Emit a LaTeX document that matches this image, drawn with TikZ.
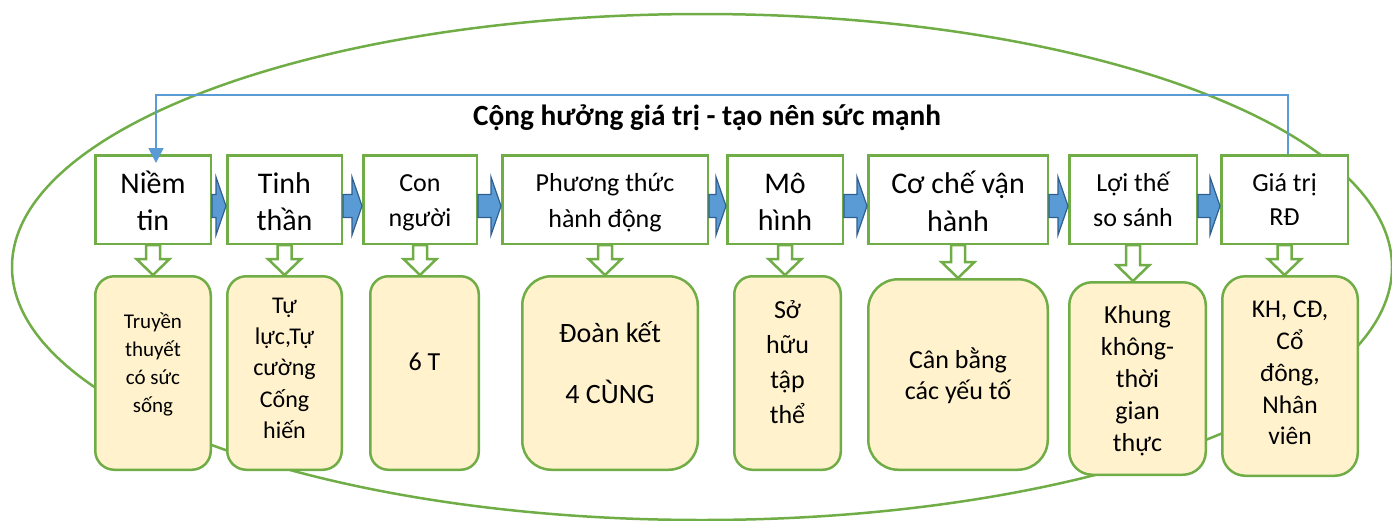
\documentclass[tikz,border=0pt]{standalone}
\usepackage{fontspec}
\setmainfont{Carlito}
\usetikzlibrary{arrows.meta,calc}
\definecolor{leaf}{HTML}{70AD47}
\definecolor{cream}{HTML}{FFF2CC}
\definecolor{sky}{HTML}{5B9BD5}
\definecolor{navy}{HTML}{2F5F8F}
\newcommand{\fs}[2]{\fontsize{#1}{#2}\selectfont}
% centred lines, baseline of the block = baseline of the first line
\newcommand{\ml}[2]{\vtop{\baselineskip=#1pt\lineskiplimit=-100pt\lineskip=0pt\halign{\hfil##\hfil\cr#2\crcr}}}
% blue block arrow between two top boxes
\newcommand{\rarr}[2]{\path[barrow] let \p1=(#1.east), \p2=(#2.west) in
  (\x1,{\y1+5pt}) -- ({\x2-10pt},{\y1+5pt}) -- ({\x2-10pt},{\y1+22.5pt}) -- (\x2,{\y1-6.5pt})
  -- ({\x2-10pt},{\y1-35.5pt}) -- ({\x2-10pt},{\y1-18pt}) -- (\x1,{\y1-18pt}) -- cycle;}
% hollow down arrow from a top box to its detail box
\newcommand{\darr}[2]{\path[warrow] let \p1=(#1.south), \p2=(#2.north) in
  ({\x1-7pt},\y1) -- ({\x1-7pt},{\y2+16pt}) -- ({\x1-16.5pt},{\y2+16pt}) -- (\x1,\y2)
  -- ({\x1+16.5pt},{\y2+16pt}) -- ({\x1+7pt},{\y2+16pt}) -- ({\x1+7pt},\y1) -- cycle;}
\begin{document}
\begin{tikzpicture}[x=1pt,y=-1pt,
  tbox/.style={draw=leaf, line width=2.5pt, fill=white, minimum height=88.5, inner sep=0pt},
  dbox/.style={draw=leaf, line width=2.5pt, fill=cream, inner sep=0pt},
  barrow/.style={fill=sky, draw=navy, line width=1.2pt, line join=miter},
  warrow/.style={fill=white, draw=leaf, line width=2.5pt, line join=miter},
  txt/.style={anchor=base, inner sep=0pt, text=black},
  loop/.style={draw=sky, line width=1.5pt, -{Triangle[width=15pt,length=15pt]}}]
\useasboundingbox (0,0) rectangle (1392,520);

% outer ring
\draw[leaf, line width=2.5pt] (702,267) ellipse [x radius=690pt, y radius=253pt];

% title
\node[txt, font=\bfseries\fs{29.3}{35}] (title) at (707,125) {Cộng hưởng giá trị - tạo nên sức mạnh};

% top row
\node[tbox, minimum width=115.5] (n1) at (153,199.5) {};
\node[tbox, minimum width=114.5] (n2) at (284.5,199.5) {};
\node[tbox, minimum width=113.5] (n3) at (420,199.5) {};
\node[tbox, minimum width=205.5] (n4) at (605,199.5) {};
\node[tbox, minimum width=115.5] (n5) at (785,199.5) {};
\node[tbox, minimum width=179.5] (n6) at (958,199.5) {};
\node[tbox, minimum width=127.5] (n7) at (1133,199.5) {};
\node[tbox, minimum width=126.5] (n8) at (1284.5,199.5) {};

\node[txt, font=\fs{30}{37}] (l1) at (153,193) {\ml{37}{Niềm\cr tin}};
\node[txt, font=\fs{30}{37}] (l2) at (284.5,193) {\ml{37}{Tinh\cr thần}};
\node[txt, font=\fs{26}{35}] (l3) at (420,191) {\ml{35}{Con\cr người}};
\node[txt, font=\fs{26}{36}] (l4) at (605,191) {\ml{36}{Phương thức\cr hành động}};
\node[txt, font=\fs{30}{37}] (l5) at (785,193) {\ml{37}{Mô\cr hình}};
\node[txt, font=\fs{30}{38}] (l6) at (958,193) {\ml{38}{Cơ chế vận\cr hành}};
\node[txt, font=\fs{26}{35}] (l7) at (1133,191.5) {\ml{35}{Lợi thế\cr so sánh}};
\node[txt, font=\fs{26}{34}] (l8) at (1284.5,191) {\ml{34}{Giá trị\cr RĐ}};

% detail row
\node[dbox, rounded corners=19, minimum width=115.5, minimum height=193.5] (d1) at (153,373) {};
\node[dbox, rounded corners=19, minimum width=114.5, minimum height=193.5] (d2) at (284.5,373) {};
\node[dbox, rounded corners=18, minimum width=108.5, minimum height=193.5] (d3) at (424.5,373) {};
\node[dbox, rounded corners=29, minimum width=175.5, minimum height=193.5] (d4) at (610,373) {};
\node[dbox, rounded corners=18, minimum width=106.5, minimum height=193.5] (d5) at (787.5,373) {};
\node[dbox, rounded corners=30, minimum width=179.5, minimum height=190.5] (d6) at (958,374.5) {};
\node[dbox, rounded corners=23, minimum width=136.5, minimum height=192.5] (d7) at (1137.5,378.5) {};
\node[dbox, rounded corners=23, minimum width=135.5, minimum height=199.5] (d8) at (1290,376) {};

\node[txt, font=\fs{21}{28}] (t1) at (153,328) {\ml{28}{Truyền\cr thuyết\cr có sức\cr sống}};
\node[txt, font=\fs{24}{31}] (t2) at (284.5,313.3) {\ml{31.25}{Tự\cr lực,Tự\cr cường\cr Cống\cr hiến}};
\node[txt, font=\fs{26}{32}] (t3) at (424.5,370) {6 T};
\node[txt, font=\fs{28}{34}] (t4) at (610,342) {\ml{61}{Đoàn kết\cr 4 CÙNG}};
\node[txt, font=\fs{26}{35}] (t5) at (787.5,318) {\ml{35}{Sở\cr hữu\cr tập\cr thể}};
\node[txt, font=\fs{26}{31}] (t6) at (958,368) {\ml{31}{Cân bằng\cr các yếu tố}};
\node[txt, font=\fs{26}{32}] (t7) at (1137.5,323.3) {\ml{32.1}{Khung\cr không-\cr thời\cr gian\cr thực}};
\node[txt, font=\fs{25.5}{32}] (t8) at (1290,317.7) {\ml{31.8}{KH, CĐ,\cr Cổ\cr đông,\cr Nhân\cr viên}};

% flow along the top row
\rarr{n1}{n2}
\rarr{n2}{n3}
\rarr{n3}{n4}
\rarr{n4}{n5}
\rarr{n5}{n6}
\rarr{n6}{n7}
\rarr{n7}{n8}

% each stage down to its detail
\darr{n1}{d1}
\darr{n2}{d2}
\darr{n3}{d3}
\darr{n4}{d4}
\darr{n5}{d5}
\darr{n6}{d6}
\darr{n7}{d7}
\darr{n8}{d8}

% feedback from the last stage back to the first
\draw[loop] ([xshift=3.5pt]n8.north) -- ++(0,-59) -| ([xshift=3pt,yshift=-9pt]n1.north);
\end{tikzpicture}
\end{document}
